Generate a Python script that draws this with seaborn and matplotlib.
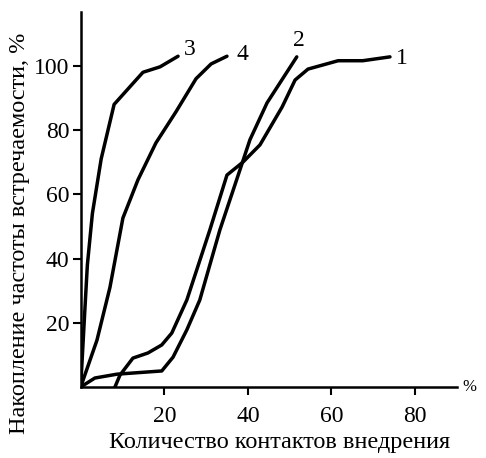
import numpy as np
import matplotlib
matplotlib.use("Agg")
import matplotlib.pyplot as plt
import seaborn as sns
import pandas as pd

# ── Data ──────────────────────────────────────────────────────────────────────
curve1_x = [8.2, 9.4, 12.5, 16.1, 19.4, 21.8, 25.4, 30.9, 35.0, 38.8, 42.9,
            48.2, 51.3, 54.4, 61.6, 67.5, 74.0]
curve1_y = [0, 3.7, 9.0, 10.6, 13.1, 16.8, 27.1, 48.9, 66.0, 70.0, 75.4,
            87.2, 95.6, 99.0, 101.6, 101.6, 102.8]

curve2_x = [0, 3.4, 8.7, 19.4, 22.1, 25.4, 28.5, 33.3, 38.1, 40.5, 44.6, 51.7]
curve2_y = [0, 2.8, 4.0, 5.0, 9.3, 17.8, 27.1, 48.9, 67.6, 77.0, 88.5, 102.8]

curve3_x = [0, 1.0, 1.6, 2.8, 4.9, 8.0, 14.9, 19.0, 23.3]
curve3_y = [0, 24, 38, 54, 71, 88, 98, 99.7, 103]

curve4_x = [0, 3.9, 7.0, 10.1, 13.7, 18.0, 22.8, 27.6, 31.2, 35.0]
curve4_y = [0, 14.6, 31, 52.6, 64.5, 76, 85.7, 96, 100.6, 103]

curve_names = ["1", "2", "3", "4"]
label_pos = {"1": (76.9, 102.2), "2": (52.2, 108.0),
             "3": (26.1, 105.0), "4": (38.8, 103.4)}

x_ticks = [20, 40, 60, 80]
y_ticks = [20, 40, 60, 80, 100]

xlabel = "Количество контактов внедрения"
ylabel = "Накопление частоты встречаемости, %"

frames = []
for name, xs, ys in zip(curve_names,
                        [curve1_x, curve2_x, curve3_x, curve4_x],
                        [curve1_y, curve2_y, curve3_y, curve4_y]):
    frames.append(pd.DataFrame({"x": xs, "y": ys, "curve": name}))
df = pd.concat(frames, ignore_index=True)

# ── Plot ──────────────────────────────────────────────────────────────────────
sns.set_style("ticks")
plt.rcParams["font.family"] = ["Liberation Serif", "DejaVu Serif"]
plt.rcParams["text.color"] = "black"
plt.rcParams["xtick.color"] = "black"
plt.rcParams["ytick.color"] = "black"
plt.rcParams["axes.labelcolor"] = "black"

fig = plt.figure(figsize=(4.86, 4.58), dpi=100)
ax = fig.add_axes([0.166, 0.155, 0.774, 0.819])

sns.lineplot(data=df, x="x", y="y", units="curve", estimator=None,
             sort=False, color="black", linewidth=2.5, ax=ax)

for name, (lx, ly) in label_pos.items():
    ax.text(lx, ly, name, fontsize=17, ha="center", va="center")

ax.set_xlim(0, 90)
ax.set_ylim(0, 116.8)
ax.set_xticks(x_ticks)
ax.set_yticks(y_ticks)
ax.tick_params(axis="both", labelsize=17, width=1.5, length=6)
ax.tick_params(axis="x", pad=8)
ax.tick_params(axis="y", pad=2)

for side in ["top", "right"]:
    ax.spines[side].set_visible(False)
for side in ["left", "bottom"]:
    ax.spines[side].set_linewidth(1.8)
    ax.spines[side].set_color("black")

ax.set_xlabel(xlabel, fontsize=17.5)
ax.set_ylabel(ylabel, fontsize=17.5)
ax.xaxis.set_label_coords(0.53, -0.12)
ax.yaxis.set_label_coords(-0.134, 0.41)
ax.text(93, 0, "%", fontsize=12, ha="center", va="center", clip_on=False)

fig.savefig("out.png", dpi=100)
